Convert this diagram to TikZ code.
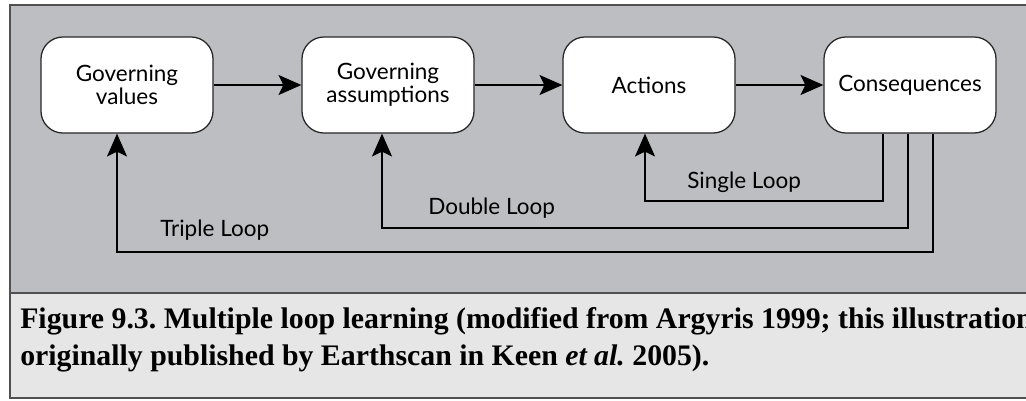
\documentclass[tikz,border=0pt]{standalone}
\usepackage{fontspec}
\usepackage{tikz}
\usetikzlibrary{arrows.meta}
\setmainfont{Lato}
\newfontfamily\capfont{Liberation Serif}
\definecolor{panelgray}{RGB}{189,190,194}
\definecolor{capgray}{RGB}{230,230,230}
\definecolor{framegray}{RGB}{80,80,80}
\frenchspacing

\begin{document}
\begin{tikzpicture}[x=0.025cm,y=-0.025cm,
  stepbox/.style={draw=black!85,fill=white,line width=0.9pt,rounded corners=0.55cm,
    minimum width=4.3cm,minimum height=2.4cm,align=center,inner sep=0pt,
    font=\fontsize{16}{16.5}\selectfont},
  arr/.style={line width=0.9pt,-{Stealth[length=0.57cm,width=0.5cm,inset=0.12cm]}},
  looplabel/.style={anchor=base west,inner sep=0pt,font=\fontsize{16}{17}\selectfont},
  caption/.style={anchor=base west,inner sep=0pt,font=\capfont\bfseries\fontsize{21.2}{26}\selectfont}]
\useasboundingbox (0,0) rectangle (1026,401);
\clip (0,0) rectangle (1026,401);
\fill[white] (0,0) rectangle (1026,401);
\fill[panelgray] (10,5) rectangle (1040,293);
\fill[capgray] (10,293) rectangle (1040,398);
\draw[framegray,line width=1.4pt] (1040,5) -- (10,5) -- (10,398) -- (1040,398);
\draw[framegray,line width=1.4pt] (10,293) -- (1040,293);

\node[stepbox] (gv) at (127,85) {Governing\\values};
\node[stepbox] (ga) at (388,85) {Governing\\assumptions};
\node[stepbox] (act) at (649,85) {Actions};
\node[stepbox] (cons) at (910,85) {Consequences};

\draw[arr] (gv) -- (ga);
\draw[arr] (ga) -- (act);
\draw[arr] (act) -- (cons);

\coordinate (s1) at (883,201);
\coordinate (s2) at (645,201);
\coordinate (d1) at (908,228);
\coordinate (d2) at (382,228);
\coordinate (t1) at (933,252);
\coordinate (t2) at (117,252);
\draw[arr] (cons.south -| s1) -- (s1) -- (s2) -- (act.south -| s2);
\draw[arr] (cons.south -| d1) -- (d1) -- (d2) -- (ga.south -| d2);
\draw[arr] (cons.south -| t1) -- (t1) -- (t2) -- (gv.south -| t2);

\node[looplabel] (single) at (687,188) {Single Loop};
\node[looplabel] (double) at (428,214) {Double Loop};
\node[looplabel] (triple) at (160,236) {Triple Loop};

\node[caption] (cap1) at (20,328) {Figure 9.3. Multiple loop learning (modified from Argyris 1999; this illustration};
\node[caption] (cap2) at (20,365) {originally published by Earthscan in Keen \textit{et al.} 2005).};
\end{tikzpicture}
\end{document}
